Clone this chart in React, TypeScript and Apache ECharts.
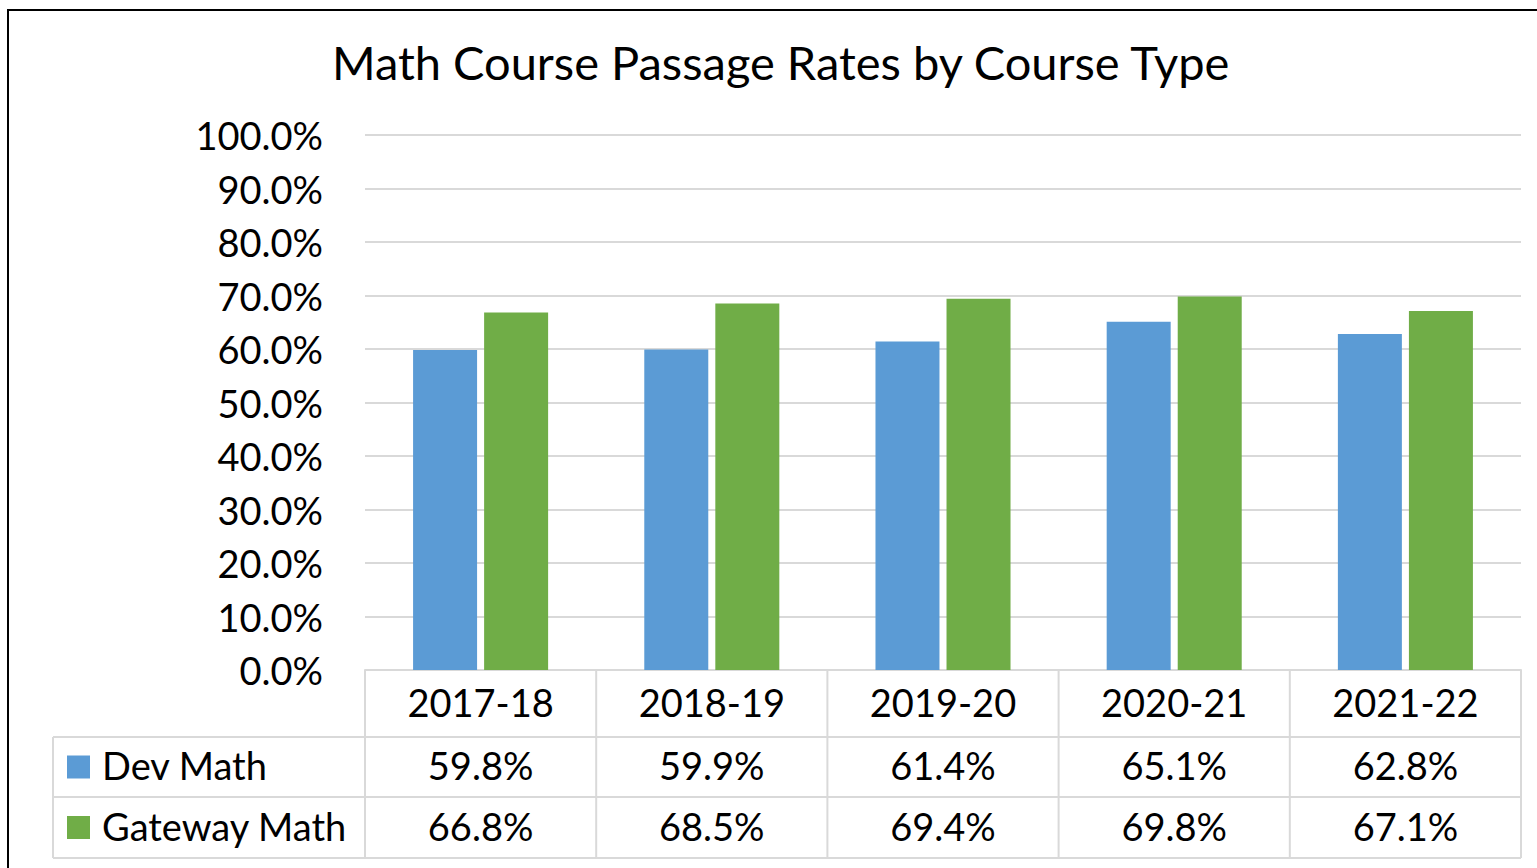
import React, { useEffect, useRef } from "react";
import * as echarts from "echarts";

const categories = ["2017-18", "2018-19", "2019-20", "2020-21", "2021-22"];
const seriesNames = ["Dev Math", "Gateway Math"];
const devMath = [59.8, 59.9, 61.4, 65.1, 62.8];
const gatewayMath = [66.8, 68.5, 69.4, 69.8, 67.1];
const seriesColors = ["#5B9BD5", "#70AD47"];
const titleText = "Math Course Passage Rates by Course Type";

const W = 1537;
const H = 868;
const GRID_L = 365;
const GRID_R = 1521;
const GRID_T = 135;
const GRID_B = 670;
const ROW1 = 737;
const ROW2 = 797;
const ROW3 = 858;
const TABLE_L = 53;
const FONT = "Lato, 'Open Sans', sans-serif";
const LINE = "#D9D9D9";
const FS = 38;

export default function App() {
  const ref = useRef<HTMLDivElement>(null);
  useEffect(() => {
    document.body.style.margin = "0";
    const chart = echarts.init(ref.current!, null, { renderer: "svg" });
    const catW = (GRID_R - GRID_L) / categories.length;
    const graphics: any[] = [];
    graphics.push({
      type: "rect",
      shape: { x: 8, y: 10, width: W + 20, height: H + 20 },
      style: { fill: "none", stroke: "#000", lineWidth: 2 },
      silent: true,
    });
    const hline = (x1: number, x2: number, y: number) =>
      graphics.push({ type: "line", shape: { x1, y1: y, x2, y2: y }, style: { stroke: LINE, lineWidth: 2 }, silent: true });
    const vline = (x: number, y1: number, y2: number) =>
      graphics.push({ type: "line", shape: { x1: x, y1, x2: x, y2 }, style: { stroke: LINE, lineWidth: 2 }, silent: true });
    hline(TABLE_L, GRID_R, ROW1);
    hline(TABLE_L, GRID_R, ROW2);
    hline(TABLE_L, GRID_R, ROW3);
    vline(TABLE_L, ROW1, ROW3);
    for (let i = 0; i <= categories.length; i++) vline(GRID_L + i * catW, GRID_B, ROW3);
    const rows = [devMath, gatewayMath];
    const rowCenters = [(ROW1 + ROW2) / 2, (ROW2 + ROW3) / 2];
    rows.forEach((vals, r) => {
      graphics.push({
        type: "rect",
        shape: { x: 67, y: rowCenters[r] - 11.5, width: 23, height: 23 },
        style: { fill: seriesColors[r] },
        silent: true,
      });
      graphics.push({
        type: "text",
        x: 102,
        y: rowCenters[r] - 2,
        style: { text: seriesNames[r], font: `${FS}px ${FONT}`, fill: "#000", textAlign: "left", textVerticalAlign: "middle" },
        silent: true,
      });
      vals.forEach((v, i) => {
        graphics.push({
          type: "text",
          x: GRID_L + (i + 0.5) * catW,
          y: rowCenters[r] - 2,
          style: { text: v.toFixed(1) + "%", font: `${FS}px ${FONT}`, fill: "#000", textAlign: "center", textVerticalAlign: "middle" },
          silent: true,
        });
      });
    });

    chart.setOption({
      animation: false,
      backgroundColor: "#fff",
      title: {
        text: titleText,
        left: 327,
        top: 33,
        textStyle: { fontFamily: FONT, fontSize: 47, fontWeight: "normal", color: "#000" },
      },
      grid: { left: GRID_L, right: W - GRID_R, top: GRID_T, bottom: H - GRID_B, containLabel: false },
      xAxis: {
        type: "category",
        data: categories,
        axisLine: { show: true, lineStyle: { color: LINE, width: 2 } },
        axisTick: { show: false },
        axisLabel: { fontFamily: FONT, fontSize: FS, color: "#000", margin: 13 },
      },
      yAxis: {
        type: "value",
        min: 0,
        max: 100,
        interval: 10,
        axisLine: { show: false },
        axisTick: { show: false },
        splitLine: { lineStyle: { color: LINE, width: 2 } },
        axisLabel: { fontFamily: FONT, fontSize: FS, color: "#000", margin: 42, formatter: (v: number) => v.toFixed(1) + "%" },
      },
      series: [
        { name: seriesNames[0], type: "bar", data: devMath, barWidth: 64, barGap: "11%", itemStyle: { color: seriesColors[0] } },
        { name: seriesNames[1], type: "bar", data: gatewayMath, barWidth: 64, barGap: "11%", itemStyle: { color: seriesColors[1] } },
      ],
      graphic: graphics,
    });
    return () => chart.dispose();
  }, []);
  return <div ref={ref} style={{ width: W, height: H }} />;
}
